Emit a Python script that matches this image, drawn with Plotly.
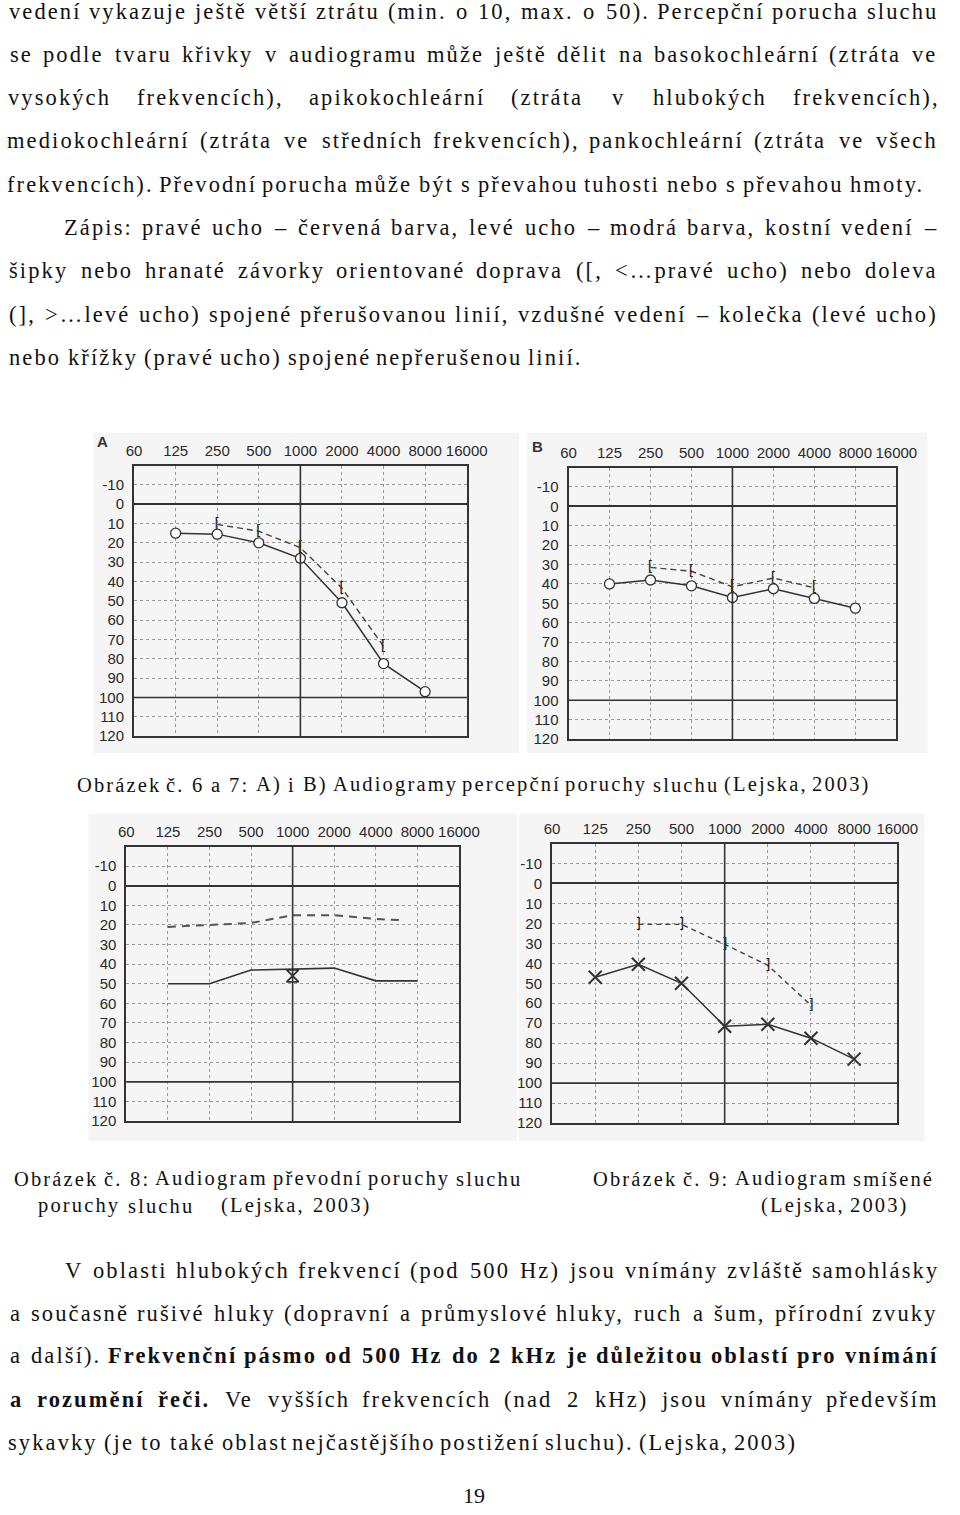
import math
import unicodedata
import plotly.graph_objects as go

W, H = 960, 1515

# ---------------- data ----------------
FREQ_TICKS = [62.5, 125, 250, 500, 1000, 2000, 4000, 8000, 16000]
FREQ_LABELS = ["60", "125", "250", "500", "1000", "2000", "4000", "8000", "16000"]
DB_TICKS = [-10, 0, 10, 20, 30, 40, 50, 60, 70, 80, 90, 100, 110, 120]
DB_LABELS = ["-10", "0", "10", "20", "30", "40", "50", "60", "70", "80", "90", "100", "110", "120"]

# A: perceptual loss (basocochlear)
A_AIR_FREQ = [125, 250, 500, 1000, 2000, 4000, 8000]
A_AIR_DB = [15, 15.5, 20, 28, 51, 82.5, 97]
A_BONE_FREQ = [250, 500, 1000, 2000, 4000]
A_BONE_DB = [10.5, 14, 22.5, 43.5, 73.5]

# B: perceptual loss (pancochlear)
B_AIR_FREQ = [125, 250, 500, 1000, 2000, 4000, 8000]
B_AIR_DB = [40, 38, 41, 47, 42.5, 47.5, 52.5]
B_BONE_FREQ = [250, 500, 1000, 2000, 4000]
B_BONE_DB = [31.5, 33.5, 41.5, 37, 42]

# C: conductive loss
C_AIR_FREQ = [125, 250, 500, 1000, 2000, 4000, 8000]
C_AIR_DB = [50, 50, 43, 42.5, 42, 48.5, 48.5]
C_BONE_FREQ = [125, 250, 500, 1000, 2000, 4000, 6000]
C_BONE_DB = [21, 20, 19, 15, 15, 17, 17.5]
C_MARK_FREQ = [1000]
C_MARK_DB = [46]

# D: mixed loss
D_AIR_FREQ = [125, 250, 500, 1000, 2000, 4000, 8000]
D_AIR_DB = [47, 40.5, 50, 71.5, 70.5, 77.5, 88]
D_BONE_FREQ = [250, 500, 1000, 2000, 4000]
D_BONE_DB = [20.5, 20.5, 30.5, 41, 61]

# ---------------- text ----------------
BODY_LINES = [
    "vedení vykazuje ještě větší ztrátu (min. o 10, max. o 50). Percepční porucha sluchu",
    "se podle tvaru křivky v audiogramu může ještě dělit na basokochleární (ztráta ve",
    "vysokých frekvencích), apikokochleární (ztráta v hlubokých frekvencích),",
    "mediokochleární (ztráta ve středních frekvencích), pankochleární (ztráta ve všech",
    "frekvencích). Převodní porucha může být s převahou tuhosti nebo s převahou hmoty.",
    "Zápis: pravé ucho – červená barva, levé ucho – modrá barva, kostní vedení –",
    "šipky nebo hranaté závorky orientované doprava ([, <…pravé ucho) nebo doleva",
    "(], >…levé ucho) spojené přerušovanou linií, vzdušné vedení – kolečka (levé ucho)",
    "nebo křížky (pravé ucho) spojené nepřerušenou linií.",
    "V oblasti hlubokých frekvencí (pod 500 Hz) jsou vnímány zvláště samohlásky",
    "a současně rušivé hluky (dopravní a průmyslové hluky, ruch a šum, přírodní zvuky",
    "a další). **Frekvenční pásmo od 500 Hz do 2 kHz je důležitou oblastí pro vnímání**",
    "**a rozumění řeči.** Ve vyšších frekvencích (nad 2 kHz) jsou vnímány především",
    "sykavky (je to také oblast nejčastějšího postižení sluchu). (Lejska, 2003)",
]
# (x start, x end, y centre) in page pixels
BODY_POS = [
    (3, 957, 12), (3, 957, 55), (3, 957, 98), (3, 957, 141), (3, 943, 185),
    (60, 957, 229), (3, 957, 272), (3, 957, 316), (3, 590, 359),
    (60, 957, 1277), (3, 957, 1320), (3, 957, 1363), (3, 957, 1407), (3, 812, 1450),
]
CAPTION_LINES = [
    "Obrázek č. 6 a 7: A) i B) Audiogramy percepční poruchy sluchu (Lejska, 2003)",
    "Obrázek č. 8: Audiogram převodní poruchy sluchu",
    "poruchy sluchu",
    "(Lejska, 2003)",
    "Obrázek č. 9: Audiogram smíšené",
    "(Lejska, 2003)",
]
CAPTION_POS = [
    (73, 888, 789), (8, 528, 1185), (33, 190, 1212), (222, 373, 1212),
    (605, 953, 1185), (779, 927, 1212),
]
PAGE_NUMBER = "19"

# ---------------- font metrics (Times / Liberation Serif, 1/1000 em) ----------------
TR = {' ': 250, '!': 333, '(': 333, ')': 333, ',': 250, '-': 333, '.': 250, ':': 278, ';': 278,
      '<': 564, '>': 564, '[': 333, ']': 333, '–': 500, '…': 1000}
for d in "0123456789":
    TR[d] = 500
TR.update(dict(zip("ABCDEFGHIJKLMNOPQRSTUVWXYZ",
                   [722, 667, 667, 722, 611, 556, 722, 722, 333, 389, 722, 611, 889, 722, 722, 556, 722, 667, 556, 611, 722, 722, 944, 722, 722, 611])))
TR.update(dict(zip("abcdefghijklmnopqrstuvwxyz",
                   [444, 500, 444, 500, 444, 333, 500, 500, 278, 278, 500, 278, 778, 500, 500, 500, 500, 333, 389, 278, 500, 500, 722, 500, 500, 444])))
TB = dict(TR)
TB.update(dict(zip("abcdefghijklmnopqrstuvwxyz",
                   [500, 556, 444, 556, 444, 333, 500, 556, 278, 333, 556, 278, 833, 556, 500, 556, 556, 444, 389, 333, 556, 500, 722, 500, 500, 444])))
TB.update({'F': 611, 'H': 778, 'A': 722})


def word_width(word, bold, size, ls):
    table = TB if bold else TR
    w = 0
    for ch in word:
        base = unicodedata.normalize('NFD', ch)[0]
        w += table.get(base, 500)
    return w / 1000.0 * size + ls * len(word)


def esc(s):
    return s.replace('&', '&amp;').replace('<', '&lt;').replace('>', '&gt;')


def tokenize(line):
    out, bold = [], False
    for w in line.split(' '):
        b = bold
        if w.startswith('**'):
            w = w[2:]
            b = True
            bold = True
        end = False
        if w.endswith('**'):
            w = w[:-2]
            end = True
        out.append((w, b))
        if end:
            bold = False
    return out


annotations = []


def place_line(line, x0, x1, yc, size, ls, color='#111'):
    toks = tokenize(line)
    widths = [word_width(w, b, size, ls) - ls for w, b in toks]
    n = len(toks)
    gap = (x1 - x0 - sum(widths)) / (n - 1) if n > 1 else 0
    x = x0
    for (w, b), wd in zip(toks, widths):
        inner = f'<b>{esc(w)}</b>' if b else esc(w)
        annotations.append(dict(
            text=f'<span style="letter-spacing:{ls}px">{inner}</span>',
            x=(x + wd / 2) / W, y=1 - yc / H, xref='paper', yref='paper',
            xanchor='center', yanchor='middle', showarrow=False,
            font=dict(family='Liberation Serif', size=size, color=color),
            borderpad=0, borderwidth=0))
        x += wd + gap


for line, (x0, x1, yc) in zip(BODY_LINES, BODY_POS):
    place_line(line, x0, x1, yc, 22.5, 2.1)
for line, (x0, x1, yc) in zip(CAPTION_LINES, CAPTION_POS):
    place_line(line, x0, x1, yc, 20.5, 2.15)
annotations.append(dict(text=PAGE_NUMBER, x=481 / W, y=1 - 1503 / H, xref='paper', yref='paper',
                        xanchor='center', yanchor='middle', showarrow=False,
                        font=dict(family='Liberation Serif', size=22, color='#111')))

# ---------------- charts ----------------
INK = '#333333'
GRID = '#9a9a9a'
TICKFONT = dict(family='Liberation Sans', size=15, color='#2a2a2a')

# (left, right, top, bottom) of plot boxes in page pixels
BOXES = [(130, 473, 468, 740), (578, 916, 470, 743), (122, 465, 851, 1127), (561, 917, 848, 1129)]
IMAGE_BG = [(88, 527, 435, 757), (535, 948, 435, 757), (83, 525, 818, 1147), (527, 945, 818, 1147)]

fig = go.Figure()
layout = dict(width=W, height=H, autosize=False, margin=dict(l=0, r=0, t=0, b=0),
              paper_bgcolor='white', plot_bgcolor='white', showlegend=False)
shapes = []

for i, (l, r, t, b) in enumerate(BOXES, start=1):
    sfx = '' if i == 1 else str(i)
    layout['xaxis' + sfx] = dict(
        domain=[l / W, r / W], type='log', range=[math.log10(62.5), math.log10(16000)],
        side='top', tickvals=FREQ_TICKS, ticktext=FREQ_LABELS, ticks='', ticklabelstandoff=2,
        showgrid=True, gridcolor=GRID, griddash='dot', gridwidth=1,
        showline=True, mirror=True, linecolor=INK, linewidth=2, zeroline=False,
        tickfont=TICKFONT, anchor='y' + sfx, fixedrange=True)
    layout['yaxis' + sfx] = dict(
        domain=[1 - b / H, 1 - t / H], range=[120, -20],
        tickvals=DB_TICKS, ticktext=DB_LABELS, ticks='', ticklabelstandoff=5,
        showgrid=True, gridcolor=GRID, griddash='dot', gridwidth=1,
        showline=True, mirror=True, linecolor=INK, linewidth=2,
        zeroline=True, zerolinecolor=INK, zerolinewidth=1.6,
        tickfont=TICKFONT, anchor='x' + sfx, fixedrange=True)
    # solid reference lines at 100 dB and 1000 Hz
    shapes.append(dict(type='line', xref=f'x{sfx} domain', x0=0, x1=1, yref='y' + sfx, y0=100, y1=100,
                       line=dict(color=INK, width=1.6), layer='above'))
    shapes.append(dict(type='line', xref='x' + sfx, x0=1000, x1=1000, yref=f'y{sfx} domain', y0=0, y1=1,
                       line=dict(color=INK, width=1.6), layer='above'))

for (l, r, t, b) in IMAGE_BG:
    shapes.append(dict(type='rect', xref='paper', yref='paper', x0=l / W, x1=r / W,
                       y0=1 - b / H, y1=1 - t / H, fillcolor='#f5f5f5', line=dict(width=0), layer='below'))


def bone(freq, db, ax, glyph, dash):
    fig.add_trace(go.Scatter(x=freq, y=db, mode='lines+text', text=[glyph] * len(freq),
                             textposition='middle center',
                             textfont=dict(family='DejaVu Sans', size=14, color='#222'),
                             line=dict(color='#444', width=1.4, dash=dash),
                             xaxis='x' + ax, yaxis='y' + ax, hoverinfo='skip'))


def air_circles(freq, db, ax):
    fig.add_trace(go.Scatter(x=freq, y=db, mode='lines+markers',
                             line=dict(color=INK, width=1.5),
                             marker=dict(symbol='circle', size=10, color='white',
                                         line=dict(color=INK, width=1.3)),
                             xaxis='x' + ax, yaxis='y' + ax, hoverinfo='skip'))


# A
bone(A_BONE_FREQ, A_BONE_DB, '', '[', '6px,4px')
air_circles(A_AIR_FREQ, A_AIR_DB, '')
# B
bone(B_BONE_FREQ, B_BONE_DB, '2', '[', '6px,4px')
air_circles(B_AIR_FREQ, B_AIR_DB, '2')
# C
fig.add_trace(go.Scatter(x=C_BONE_FREQ, y=C_BONE_DB, mode='lines',
                         line=dict(color='#555', width=2, dash='8px,6px'),
                         xaxis='x3', yaxis='y3', hoverinfo='skip'))
fig.add_trace(go.Scatter(x=C_AIR_FREQ, y=C_AIR_DB, mode='lines',
                         line=dict(color=INK, width=1.6),
                         xaxis='x3', yaxis='y3', hoverinfo='skip'))
fig.add_trace(go.Scatter(x=C_MARK_FREQ, y=C_MARK_DB, mode='markers',
                         marker=dict(symbol='hourglass-open', size=12, color=INK,
                                     line=dict(color=INK, width=1.8)),
                         xaxis='x3', yaxis='y3', hoverinfo='skip'))
# D
bone(D_BONE_FREQ, D_BONE_DB, '4', ']', '5px,4px')
fig.add_trace(go.Scatter(x=D_AIR_FREQ, y=D_AIR_DB, mode='lines+markers',
                         line=dict(color=INK, width=1.5),
                         marker=dict(symbol='x-thin', size=13, color=INK,
                                     line=dict(color=INK, width=2)),
                         xaxis='x4', yaxis='y4', hoverinfo='skip'))

# panel letters
for letter, (px, py) in zip(["A", "B"], [(97, 444), (546, 449)]):
    annotations.append(dict(text=f'<b>{letter}</b>', x=px / W, y=1 - py / H, xref='paper', yref='paper',
                            xanchor='center', yanchor='middle', showarrow=False,
                            font=dict(family='Liberation Sans', size=15, color=INK)))

layout['shapes'] = shapes
layout['annotations'] = annotations
fig.update_layout(**layout)
fig.write_html("out.html", config={'displayModeBar': False},
               post_script="document.body.style.margin='0px';")
